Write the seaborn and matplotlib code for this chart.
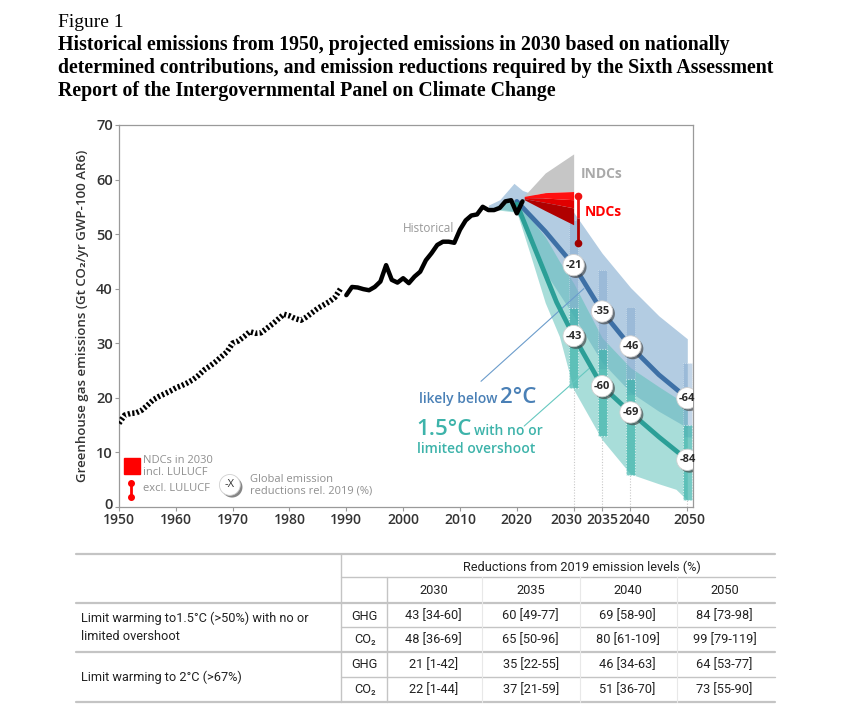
import numpy as np
import pandas as pd
import matplotlib
matplotlib.use("Agg")
import matplotlib.pyplot as plt
import matplotlib.patheffects as pe
import matplotlib.transforms as mtrans
import seaborn as sns

sns.set_theme(style="white")
plt.rcParams["font.family"] = ["Open Sans", "DejaVu Sans"]

# ---------------- data ----------------
hist_dotted_years = list(range(1950, 1990))
hist_dotted = [15.3, 16.8, 17.1, 17.2, 17.7, 18.6, 19.6, 20.2, 20.7, 21.2,
               21.8, 22.2, 22.7, 23.3, 24.1, 25.1, 25.8, 26.6, 27.5, 28.4,
               30.0, 30.4, 31.2, 32.1, 31.8, 31.9, 32.7, 33.5, 34.4, 35.3,
               35.0, 34.5, 34.2, 34.8, 35.6, 36.4, 37.0, 37.6, 38.4, 40.0]
hist_solid_years = list(range(1990, 2022))
hist_solid = [38.8, 40.3, 40.2, 39.9, 39.7, 40.3, 41.3, 44.3, 41.6, 41.1,
              41.9, 41.0, 42.2, 43.1, 45.2, 46.5, 48.0, 48.6, 48.6, 48.4,
              50.8, 52.5, 53.4, 53.6, 55.0, 54.4, 54.4, 54.8, 56.0, 56.2,
              53.8, 56.0]

# likely below 2C pathway (median and range)
med2_years = [2020, 2025, 2030, 2035, 2040, 2045, 2050]
med2 = [56.0, 50.5, 44.3, 35.8, 29.4, 24.2, 19.9]
band2_years = [2015, 2017, 2019.5, 2021, 2025, 2030, 2035, 2040, 2045, 2050]
band2_high = [55.3, 56.3, 59.3, 58.0, 56.5, 54.0, 46.5, 40.2, 35.0, 30.8]
band2_low = [54.8, 54.6, 54.2, 52.5, 43.0, 35.0, 26.5, 21.0, 17.5, 14.5]

# 1.5C pathway (median and range)
med15_years = [2020, 2023.5, 2027, 2030, 2035, 2040, 2045, 2050]
med15 = [55.5, 46.5, 37.5, 31.3, 22.1, 17.3, 12.8, 8.6]
band15_years = [2016, 2020, 2022.3, 2025, 2027.5, 2030, 2035, 2040, 2045, 2048, 2050]
band15_high = [55.0, 56.5, 53.0, 49.5, 45.0, 41.0, 31.0, 25.5, 22.0, 20.0, 19.0]
band15_low = [54.5, 54.0, 46.5, 37.4, 31.2, 21.5, 12.3, 6.0, 4.2, 3.2, 1.2]

# bars (ranges) at milestone years
bar_years = [2030, 2035, 2040, 2050]
bar2_low = [32.5, 25.2, 20.4, 12.7]
bar2_high = [52.5, 43.4, 36.7, 26.3]
bar15_low = [21.7, 13.0, 5.8, 1.2]
bar15_high = [36.4, 28.9, 23.4, 15.0]
labels2 = ["-21", "-35", "-46", "-64"]
labels15 = ["-43", "-60", "-69", "-84"]

# INDC / NDC wedges
ndc_years = [2021.3, 2025, 2030]
indc_top = [57.0, 61.2, 64.7]
ndc_top = [56.9, 57.6, 57.8]
ndc_mid1 = [56.7, 56.6, 56.3]
ndc_mid2 = [56.5, 55.8, 54.8]
ndc_bottom = [56.3, 54.3, 51.7]
ndc_bar = [48.3, 53.0, 56.9]   # low, split, high (excl. LULUCF)

xticks = [1950, 1960, 1970, 1980, 1990, 2000, 2010, 2020, 2030, 2035, 2040, 2050]
yticks = [0, 10, 20, 30, 40, 50, 60, 70]

# table
table_years = ["2030", "2035", "2040", "2050"]
row_groups = ["Limit warming to1.5°C (>50%) with no or\nlimited overshoot",
              "Limit warming to 2°C (>67%)"]
gases = ["GHG", "CO₂"]
t15_ghg = ["43 [34-60]", "60 [49-77]", "69 [58-90]", "84 [73-98]"]
t15_co2 = ["48 [36-69]", "65 [50-96]", "80 [61-109]", "99 [79-119]"]
t2_ghg = ["21 [1-42]", "35 [22-55]", "46 [34-63]", "64 [53-77]"]
t2_co2 = ["22 [1-44]", "37 [21-59]", "51 [36-70]", "73 [55-90]"]

# ---------------- colours ----------------
C_BLUE = "#3d70a6"
C_TEAL = "#2b9f97"
C_BAND2 = "#b3cce2"
C_BAND15 = "#58bfb7"
C_TXT = "#333333"
C_GREY = "#8f8f8f"

fig = plt.figure(figsize=(8.41, 7.11), dpi=100)
ax = fig.add_axes([0.1415, 0.2873, 0.6825, 0.5369])

# bands
ax.fill_between(band2_years, band2_low, band2_high, color=C_BAND2, lw=0, zorder=1)
ax.fill_between(band15_years, band15_low, band15_high, color=C_BAND15, alpha=0.52, lw=0, zorder=1.2)

# vertical dotted guides
ax.vlines(bar_years, 0, bar15_low, colors="#c8c8c8", linestyles=(0, (1, 1.5)), lw=0.8, zorder=1.1)

# bars
b2 = pd.DataFrame({"year": bar_years, "low": bar2_low, "high": bar2_high})
b15 = pd.DataFrame({"year": bar_years, "low": bar15_low, "high": bar15_high})
ax.bar(b2["year"], b2["high"] - b2["low"], bottom=b2["low"], width=1.6,
       color="#7ea6cc", alpha=0.45, edgecolor="white", linestyle=(0, (1, 1.5)), lw=0.6, zorder=2)
ax.bar(b15["year"], b15["high"] - b15["low"], bottom=b15["low"], width=1.6,
       color="#3db4ab", alpha=0.7, edgecolor="white", linestyle=(0, (1, 1.5)), lw=0.8, zorder=2.1)

# INDC / NDC wedges
ax.fill_between(ndc_years, ndc_top, indc_top, color="#c6c6c6", lw=0, zorder=3)
ax.fill_between(ndc_years, ndc_mid1, ndc_top, color="#ff1010", lw=0, zorder=3)
ax.fill_between(ndc_years, ndc_mid2, ndc_mid1, color="#e00000", lw=0, zorder=3)
ax.fill_between(ndc_years, ndc_bottom, ndc_mid2, color="#b00000", lw=0, zorder=3)
ax.vlines(2030.8, ndc_bar[1], ndc_bar[2], colors="#ee1111", lw=2, zorder=3.2)
ax.vlines(2030.8, ndc_bar[0], ndc_bar[1], colors="#b00000", lw=2, zorder=3.2)
ax.plot([2030.8], [ndc_bar[2]], "o", color="#ee1111", ms=4.5, zorder=3.3)
ax.plot([2030.8], [ndc_bar[0]], "o", color="#a00000", ms=4.5, zorder=3.3)

# historical
sns.lineplot(x=hist_dotted_years, y=hist_dotted, ax=ax, color="black", lw=4,
             linestyle=(0, (0.4, 0.4)), zorder=4)
sns.lineplot(x=hist_solid_years, y=hist_solid, ax=ax, color="black", lw=3.2, zorder=4.5)

# medians
sns.lineplot(x=med2_years, y=med2, ax=ax, color=C_BLUE, lw=3.4, zorder=4)
sns.lineplot(x=med15_years, y=med15, ax=ax, color=C_TEAL, lw=3.4, zorder=4)

# leader lines
ax.plot([2013.7, 2031.8], [23.0, 40.0], color="#6b9ccb", lw=0.8, zorder=3.6)
ax.plot([2021.3, 2033.0], [14.8, 25.6], color="#66c8c0", lw=0.8, zorder=3.6)

# circle labels
m2 = pd.Series(med2, index=med2_years)
m15 = pd.Series(med15, index=med15_years)
circ = pd.DataFrame({"x": bar_years + bar_years,
                     "y": list(m2.loc[bar_years]) + list(m15.loc[bar_years]),
                     "lab": labels2 + labels15})
shadow = [pe.SimplePatchShadow(offset=(1.6, -1.6), shadow_rgbFace="#444444", alpha=0.65), pe.Normal()]
sns.scatterplot(data=circ, x="x", y="y", ax=ax, s=235, color="white",
                edgecolor="#d0d0d0", linewidth=0.6, zorder=6, path_effects=shadow, legend=False)
for _, r in circ.iterrows():
    ax.text(r["x"], r["y"], r["lab"], ha="center", va="center", fontsize=8,
            color="#2a2a2a", fontweight="bold", zorder=7)

# annotations
ax.text(2000.0, 51.0, "Historical", color="#999999", fontsize=8.5, va="center")
ax.text(2031.2, 61.0, "INDCs", color="#a9a9a9", fontsize=10, fontweight="bold", va="center")
ax.text(2031.9, 54.1, "NDCs", color="#ff0000", fontsize=10, fontweight="bold", va="center")
c2 = "#4a80b6"
c15 = "#3db3aa"
t1 = ax.text(2002.8, 19.0, "likely below", color=c2, fontsize=10, fontweight="semibold", va="baseline")
ax.annotate("2°C", xy=(1, 0), xycoords=t1, xytext=(1.5, -1.2), textcoords="offset points",
            color=c2, fontsize=16, fontweight="semibold", va="bottom", ha="left")
t2 = ax.text(2002.4, 13.2, "1.5°C", color=c15, fontsize=16, fontweight="semibold", va="baseline")
ax.annotate("with no or", xy=(1, 0), xycoords=t2, xytext=(1.5, 1.3), textcoords="offset points",
            color=c15, fontsize=10, fontweight="semibold", va="bottom", ha="left")
ax.text(2002.4, 9.8, "limited overshoot", color=c15, fontsize=10, fontweight="semibold", va="baseline")

# in-chart legend
ax.plot([1952.3], [7.5], marker="s", color="#ff0000", ms=11, zorder=6)
ax.vlines(1952.1, 1.7, 4.3, colors="#ff0000", lw=2, zorder=6)
ax.plot([1952.1, 1952.1], [1.7, 4.3], "o", color="#ff0000", ms=4, zorder=6)
ax.text(1954.3, 7.45, "NDCs in 2030\nincl. LULUCF", color=C_GREY, fontsize=8, va="center", linespacing=1.1)
ax.text(1954.3, 3.3, "excl. LULUCF", color=C_GREY, fontsize=8, va="center")
ax.plot([1969.5], [4.0], "o", ms=15, mfc="white", mec="#d0d0d0", mew=0.6, zorder=6,
        path_effects=shadow)
ax.text(1969.5, 4.0, "-X", ha="center", va="center", fontsize=8, color=C_TXT, zorder=7)
ax.text(1973.0, 3.95, "Global emission\nreductions rel. 2019 (%)", color=C_GREY, fontsize=8,
        va="center", linespacing=1.1)

# axes styling
ax.set_xlim(1950, 2051)
ax.set_ylim(0, 70)
ax.set_xticks(xticks)
ax.set_yticks(yticks)
for s in ax.spines.values():
    s.set_color("#9a9a9a")
    s.set_linewidth(0.9)
ax.tick_params(axis="both", length=3, width=0.8, color="#9a9a9a", labelsize=10,
               labelcolor=C_TXT, pad=1.5, left=True, bottom=True)
ax.tick_params(axis="y", labelsize=10.5)
for lab in ax.get_xticklabels() + ax.get_yticklabels():
    lab.set_fontweight("semibold")
# nudge the crowded milestone labels like the original
shifts = {"2030": -7, "2040": 4, "2050": 2}
for lab in ax.get_xticklabels():
    dx = shifts.get(lab.get_text(), 0)
    if dx:
        lab.set_transform(lab.get_transform() + mtrans.ScaledTranslation(dx / 100, 0, fig.dpi_scale_trans))
for lab in ax.get_yticklabels():
    if lab.get_text() == "0":
        lab.set_transform(lab.get_transform() + mtrans.ScaledTranslation(0, 3 / 100, fig.dpi_scale_trans))
ax.set_xlabel("")
ax.set_ylabel("Greenhouse gas emissions (Gt CO₂/yr GWP-100 AR6)", fontsize=9.5,
              fontweight="semibold", color=C_TXT, labelpad=5)
ax.grid(False)

# ---------------- title & table (pixel-coordinate overlay) ----------------
tax = fig.add_axes([0, 0, 1, 1], zorder=-1)
tax.set_xlim(0, 841)
tax.set_ylim(711, 0)
tax.axis("off")
serif = ["Liberation Serif", "DejaVu Serif"]
tax.text(58, 26.7, "Figure 1", family=serif, fontsize=14, va="baseline", color="black")
title_lines = ["Historical emissions from 1950, projected emissions in 2030 based on nationally",
               "determined contributions, and emission reductions required by the Sixth Assessment",
               "Report of the Intergovernmental Panel on Climate Change"]
for i, t in enumerate(title_lines):
    tax.text(58, 50 + i * 23, t, family=serif, fontsize=14.3, fontweight="bold",
             va="baseline", color="black")

narrow = ["Liberation Sans Narrow", "Roboto", "DejaVu Sans"]
lc = "#c4c4c4"
for y, x0, lw in [(554, 76, 1.6), (576.7, 341, 1.0), (602.7, 76, 1.6), (627.3, 341, 1.0),
                  (651.7, 76, 1.6), (676.7, 341, 1.0), (701.7, 76, 1.6)]:
    tax.plot([x0, 775], [y, y], color=lc, lw=lw)
tax.plot([340.6, 340.6], [554, 701.7], color=lc, lw=1.0)
tax.plot([386.7, 386.7], [576.7, 701.7], color=lc, lw=1.0)
for xv in [482, 580, 677]:
    tax.plot([xv, xv], [576.7, 701.7], color="#e8e8e8", lw=0.8)

tfs = 9.2
tc = "#222222"
tax.text(581.5, 567, "Reductions from 2019 emission levels (%)", family=narrow, fontsize=tfs,
         ha="center", va="center", color=tc)
col_x = [433.8, 530.7, 627.6, 724.5]
for xv, yr in zip(col_x, table_years):
    tax.text(xv, 590.5, yr, family=narrow, fontsize=tfs, ha="center", va="center", color=tc)
row_y = [616, 639.5, 665, 689.5]
rows = [t15_ghg, t15_co2, t2_ghg, t2_co2]
for ry, vals, g in zip(row_y, rows, gases * 2):
    tax.text(364.6, ry, g, family=narrow, fontsize=tfs, ha="center", va="center", color=tc)
    for xv, v in zip(col_x, vals):
        tax.text(xv, ry, v, family=narrow, fontsize=tfs, ha="center", va="center", color=tc)
tax.text(80.8, 627.5, row_groups[0], family=narrow, fontsize=tfs, ha="left", va="center",
         color=tc, linespacing=1.45)
tax.text(80.8, 677, row_groups[1], family=narrow, fontsize=tfs, ha="left", va="center", color=tc)

fig.savefig("out.png", dpi=100, facecolor="white")
